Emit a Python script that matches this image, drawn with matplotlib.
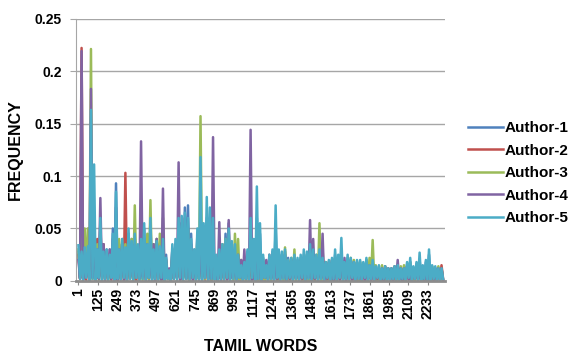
import numpy as np
import matplotlib
matplotlib.use('Agg')
import matplotlib.pyplot as plt

# Word frequencies per author, in thousandths, one value every 10th word (1, 11, 21, ...)
author_1 = [
    28, 3, 25, 2, 30, 4, 28, 2, 60, 5, 30, 3, 35, 4, 50, 6, 35, 3, 30, 2,
    30, 4, 50, 1, 93, 5, 35, 2, 40, 3, 35, 0, 45, 4, 40, 2, 40, 5, 30, 3,
    45, 2, 50, 4, 40, 1, 55, 3, 35, 5, 40, 2, 35, 0, 45, 3, 25, 2, 10, 1,
    30, 3, 35, 5, 50, 2, 55, 4, 70, 6, 72, 3, 45, 2, 30, 4, 45, 1, 60, 3,
    45, 5, 60, 2, 55, 4, 50, 3, 22, 1, 28, 0, 35, 3, 45, 2, 55, 4, 35, 2,
    30, 3, 25, 1, 15, 2, 20, 4, 28, 0, 50, 3, 35, 2, 60, 5, 45, 1, 22, 3,
    15, 2, 22, 0, 28, 3, 50, 1, 28, 4, 25, 2, 28, 0, 22, 3, 20, 1, 22, 2,
    20, 3, 22, 1, 25, 0, 25, 2, 30, 4, 28, 1, 22, 3, 28, 0, 20, 2, 18, 1,
    18, 2, 20, 0, 25, 3, 22, 1, 30, 2, 18, 0, 22, 3, 20, 1, 18, 2, 18, 0,
    18, 1, 16, 3, 20, 0, 14, 2, 18, 1, 12, 0, 14, 2, 12, 1, 12, 0, 12, 2,
    12, 1, 12, 0, 14, 2, 12, 1, 12, 0, 16, 2, 18, 1, 12, 0, 16, 2, 20, 1,
    14, 0, 18, 2, 25, 1, 14, 0, 12, 2, 12, 1, 12, 0,
]
author_2 = [
    25, 2, 222, 3, 20, 1, 25, 4, 30, 2, 25, 0, 40, 3, 55, 2, 35, 1, 22, 3,
    25, 1, 30, 3, 40, 0, 30, 2, 35, 4, 103, 1, 25, 3, 30, 2, 28, 0, 25, 2,
    30, 3, 25, 1, 35, 2, 30, 4, 30, 0, 35, 2, 30, 3, 40, 1, 18, 2, 8, 0,
    22, 2, 25, 4, 30, 1, 35, 3, 40, 2, 30, 0, 25, 3, 22, 1, 30, 2, 35, 4,
    30, 1, 35, 3, 30, 0, 28, 2, 15, 1, 20, 3, 25, 0, 30, 2, 25, 4, 25, 1,
    25, 2, 18, 0, 12, 3, 15, 1, 20, 2, 30, 0, 22, 3, 28, 1, 22, 2, 18, 0,
    15, 3, 18, 1, 20, 2, 22, 0, 18, 3, 20, 1, 22, 2, 18, 0, 20, 3, 18, 1,
    15, 2, 18, 0, 20, 3, 20, 1, 22, 2, 20, 0, 20, 3, 22, 1, 18, 2, 15, 0,
    15, 2, 18, 1, 18, 0, 15, 3, 18, 1, 15, 2, 18, 0, 18, 1, 15, 2, 12, 0,
    12, 1, 14, 0, 12, 2, 14, 1, 12, 0, 12, 2, 10, 1, 12, 0, 12, 1, 10, 2,
    10, 0, 12, 1, 12, 2, 12, 0, 12, 1, 14, 2, 12, 0, 12, 1, 12, 2, 12, 0,
    12, 1, 10, 0, 12, 2, 12, 1, 12, 0, 12, 1, 15, 2,
]
author_3 = [
    30, 4, 40, 2, 50, 5, 50, 3, 221, 2, 30, 4, 35, 1, 40, 3, 30, 2, 25, 0,
    25, 3, 30, 1, 35, 4, 40, 2, 30, 0, 35, 3, 30, 2, 40, 1, 72, 3, 25, 2,
    30, 1, 35, 4, 45, 2, 77, 3, 35, 0, 40, 2, 45, 1, 60, 3, 20, 2, 10, 0,
    25, 2, 30, 4, 35, 1, 40, 3, 45, 2, 50, 0, 30, 3, 28, 1, 40, 2, 157, 4,
    40, 2, 45, 3, 40, 1, 40, 2, 20, 0, 25, 3, 35, 1, 40, 2, 35, 4, 30, 1,
    45, 3, 40, 1, 20, 2, 20, 0, 25, 3, 40, 1, 35, 2, 35, 0, 25, 3, 20, 1,
    15, 2, 20, 0, 22, 3, 25, 1, 20, 2, 25, 0, 32, 3, 20, 1, 22, 2, 30, 0,
    18, 3, 22, 1, 20, 2, 25, 0, 22, 3, 22, 1, 25, 2, 55, 0, 30, 3, 18, 1,
    18, 2, 20, 0, 22, 3, 20, 1, 22, 2, 18, 0, 20, 3, 22, 1, 20, 2, 18, 0,
    18, 1, 15, 3, 20, 0, 22, 2, 39, 1, 15, 0, 12, 2, 15, 1, 14, 0, 12, 2,
    12, 1, 14, 0, 12, 2, 14, 1, 15, 0, 14, 2, 18, 1, 12, 0, 14, 2, 15, 1,
    12, 0, 14, 2, 12, 1, 14, 0, 12, 2, 14, 1, 12, 0,
]
author_4 = [
    20, 3, 219, 1, 18, 4, 20, 2, 183, 3, 40, 5, 30, 2, 79, 4, 35, 1, 28, 3,
    30, 2, 40, 4, 70, 1, 30, 3, 35, 0, 28, 2, 40, 4, 30, 1, 35, 3, 28, 2,
    133, 4, 40, 1, 35, 3, 30, 2, 35, 0, 40, 3, 30, 1, 88, 2, 20, 4, 12, 0,
    30, 2, 35, 3, 113, 1, 55, 4, 60, 2, 50, 3, 35, 0, 25, 2, 30, 4, 40, 1,
    30, 3, 40, 1, 45, 2, 137, 4, 20, 0, 56, 2, 30, 3, 35, 1, 58, 2, 30, 4,
    20, 1, 25, 3, 20, 0, 30, 2, 25, 4, 144, 1, 30, 3, 30, 2, 25, 0, 18, 3,
    20, 1, 25, 3, 18, 0, 25, 2, 22, 1, 18, 3, 25, 0, 18, 2, 20, 1, 18, 3,
    15, 0, 20, 2, 22, 1, 20, 3, 58, 0, 40, 2, 22, 1, 20, 3, 45, 0, 15, 2,
    18, 1, 20, 0, 15, 2, 18, 1, 20, 3, 22, 0, 15, 2, 20, 1, 18, 0, 12, 2,
    15, 1, 14, 0, 12, 2, 15, 1, 14, 0, 12, 2, 10, 1, 12, 0, 14, 2, 12, 1,
    12, 0, 14, 2, 20, 1, 12, 0, 12, 2, 14, 1, 12, 0, 12, 2, 12, 1, 14, 0,
    12, 1, 10, 0, 14, 2, 10, 1, 12, 0, 12, 2, 12, 1,
]
author_5 = [
    34, 2, 28, 1, 32, 3, 33, 0, 163, 2, 111, 1, 30, 3, 60, 0, 28, 2, 30, 1,
    25, 3, 45, 0, 85, 2, 30, 1, 40, 3, 32, 0, 50, 2, 38, 1, 45, 3, 35, 0,
    40, 2, 55, 1, 35, 3, 60, 0, 30, 2, 38, 1, 33, 3, 40, 0, 22, 2, 10, 0,
    35, 2, 40, 1, 60, 3, 62, 0, 65, 2, 60, 1, 40, 3, 30, 0, 50, 2, 118, 1,
    55, 3, 80, 0, 70, 2, 60, 1, 25, 0, 30, 2, 35, 1, 40, 3, 50, 0, 38, 2,
    35, 1, 25, 3, 15, 0, 18, 2, 30, 1, 60, 3, 40, 0, 90, 2, 55, 1, 25, 3,
    15, 0, 25, 2, 30, 1, 72, 3, 30, 0, 28, 2, 30, 1, 20, 3, 22, 0, 25, 2,
    22, 1, 25, 3, 30, 0, 28, 2, 35, 1, 30, 3, 25, 0, 30, 2, 22, 1, 18, 3,
    20, 0, 22, 2, 30, 1, 25, 3, 41, 0, 18, 2, 25, 1, 22, 3, 18, 0, 20, 2,
    20, 1, 18, 3, 22, 0, 15, 2, 20, 1, 14, 3, 15, 0, 12, 2, 14, 1, 12, 0,
    12, 2, 14, 1, 15, 0, 12, 2, 12, 1, 18, 3, 22, 0, 14, 2, 18, 1, 27, 0,
    15, 2, 20, 1, 30, 0, 15, 2, 14, 1, 12, 0, 12, 2,
]

series_names = ['Author-1', 'Author-2', 'Author-3', 'Author-4', 'Author-5']
series_colors = ['#4F81BD', '#C0504D', '#9BBB59', '#8064A2', '#4BACC6']
word_step = 10
x_tick_words = [1, 125, 249, 373, 497, 621, 745, 869, 993, 1117, 1241,
                1365, 1489, 1613, 1737, 1861, 1985, 2109, 2233]
y_ticks = [0, 0.05, 0.1, 0.15, 0.2, 0.25]
y_tick_labels = ['0', '0.05', '0.1', '0.15', '0.2', '0.25']

plt.rcParams['font.family'] = ['Liberation Sans', 'DejaVu Sans']
plt.rcParams['font.weight'] = 'bold'

fig = plt.figure(figsize=(5.71, 3.57), dpi=100)
ax = fig.add_axes([0.133, 0.213, 0.646, 0.735])

all_series = [author_1, author_2, author_3, author_4, author_5]
for values, name, color in zip(all_series, series_names, series_colors):
    freq = np.array(values) / 1000.0
    words = 1 + word_step * np.arange(len(freq))
    ax.plot(words, freq, color=color, lw=1.8, label=name)

ax.set_xlim(-15, 2342)
ax.set_ylim(0, 0.25)
ax.set_yticks(y_ticks)
ax.set_yticklabels(y_tick_labels, fontsize=10, fontweight='bold')
ax.set_xticks(x_tick_words)
ax.set_xticklabels([str(w) for w in x_tick_words], rotation=90,
                   fontsize=10, fontweight='bold')

ax.grid(axis='y', color='#a6a6a6', lw=1.0)
ax.set_axisbelow(True)
for side in ['top', 'right']:
    ax.spines[side].set_visible(False)
ax.spines['left'].set_color('#a6a6a6')
ax.spines['bottom'].set_color('#8c8c8c')
ax.spines['bottom'].set_linewidth(2.0)
ax.tick_params(axis='y', length=4, color='#a6a6a6', pad=6)
ax.tick_params(axis='x', length=3, color='#8c8c8c', pad=2)

ax.set_xlabel('TAMIL WORDS', fontsize=11.5, fontweight='bold', va='top')
ax.xaxis.set_label_coords(0.5, -0.222)
fig.text(15 / 571, 1 - 150 / 357, 'FREQUENCY', rotation=90, ha='center',
         va='center', fontsize=11.5, fontweight='bold')

fig.legend(loc='center left', bbox_to_anchor=(0.809, 0.515), frameon=False,
           fontsize=11, handlelength=2.3, handletextpad=0.1,
           labelspacing=0.55, borderaxespad=0)

fig.savefig('out.png', dpi=100)
